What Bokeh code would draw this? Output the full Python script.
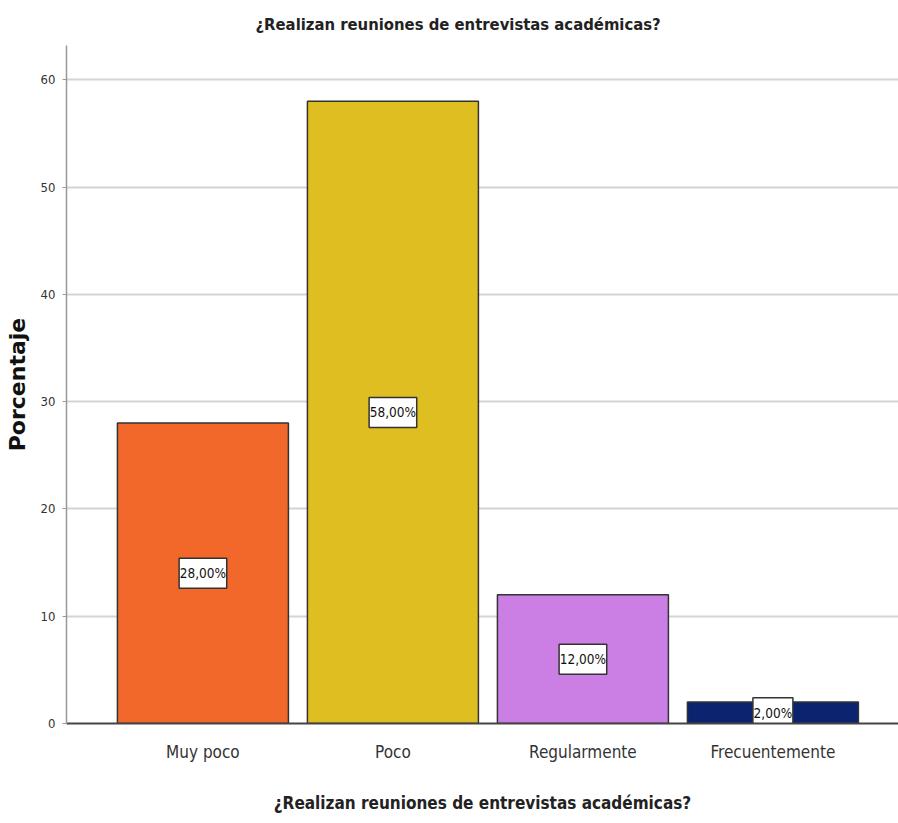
from bokeh.plotting import figure
from bokeh.models import Range1d, ColumnDataSource, FixedTicker
from bokeh.core.properties import value
from bokeh.embed import file_html
from bokeh.resources import INLINE

categories = ["Muy poco", "Poco", "Regularmente", "Frecuentemente"]
values = [28, 58, 12, 2]
labels = ["28,00%", "58,00%", "12,00%", "2,00%"]
colors = ["#f1682a", "#dfbe22", "#cb7ee3", "#0c2470"]
y_ticks = [0, 10, 20, 30, 40, 50, 60]

FONT = "DejaVu Sans Condensed"

xs = list(range(len(categories)))
src = ColumnDataSource(dict(
    x=xs, top=values, color=colors, label=labels,
    mid=[v / 2 for v in values],
    bw=[7.6 * len(s) + 2 for s in labels],
))

p = figure(width=898, height=815, output_backend="svg", toolbar_location=None,
           x_range=Range1d(-0.718, 3.661), y_range=Range1d(0, 63.2),
           min_border_left=66, min_border_right=0, min_border_top=45, min_border_bottom=0)
p.outline_line_color = None
p.background_fill_color = "white"
p.border_fill_color = "white"

p.title.text = "¿Realizan reuniones de entrevistas académicas?"
p.title.align = "left"
p.title.text_font = FONT
p.title.text_font_size = "16.5px"
p.title.text_font_style = "bold"
p.title.text_color = "#222222"
p.title.offset = 189
p.title.standoff = 24

p.vbar(x="x", top="top", width=0.9, bottom=0, source=src, fill_color="color",
       line_color="#333333", line_width=1.5)

p.rect(x="x", y="mid", width="bw", height=30, width_units="screen", height_units="screen",
       source=src, fill_color="white", line_color="#333333", line_width=1.5)
p.text(x="x", y="mid", text="label", source=src, text_align="center",
       text_baseline="middle", text_font=value(FONT), text_font_size="13.5px",
       text_color="#111111")

p.xaxis.ticker = FixedTicker(ticks=xs)
p.xaxis.major_label_overrides = {i: c for i, c in enumerate(categories)}
p.xaxis.major_tick_line_color = None
p.xaxis.minor_tick_line_color = None
p.xaxis.axis_line_color = "#444444"
p.xaxis.axis_line_width = 2
p.xaxis.major_label_text_font = FONT
p.xaxis.major_label_text_font_size = "17px"
p.xaxis.major_label_text_color = "#333333"
p.xaxis.major_label_standoff = 12
p.xaxis.axis_label = "¿Realizan reuniones de entrevistas académicas?"
p.xaxis.axis_label_text_font = FONT
p.xaxis.axis_label_text_font_size = "17px"
p.xaxis.axis_label_text_font_style = "bold"
p.xaxis.axis_label_text_color = "#222222"
p.xaxis.axis_label_standoff = 28

p.yaxis.ticker = FixedTicker(ticks=y_ticks)
p.yaxis.minor_tick_line_color = None
p.yaxis.major_tick_out = 4
p.yaxis.major_tick_in = 0
p.yaxis.major_tick_line_color = "#999999"
p.yaxis.axis_line_color = "#999999"
p.yaxis.axis_line_width = 1.5
p.yaxis.major_label_text_font = FONT
p.yaxis.major_label_text_font_size = "13px"
p.yaxis.major_label_text_color = "#333333"
p.yaxis.major_label_standoff = 7
p.yaxis.axis_label = "Porcentaje"
p.yaxis.axis_label_text_font = "DejaVu Sans"
p.yaxis.axis_label_text_font_size = "22px"
p.yaxis.axis_label_text_font_style = "bold"
p.yaxis.axis_label_text_color = "#111111"
p.yaxis.axis_label_standoff = 8

p.xgrid.grid_line_color = None
p.ygrid.grid_line_color = "#d4d4d4"
p.ygrid.grid_line_width = 2

open("out.html", "w").write(file_html(p, INLINE))
